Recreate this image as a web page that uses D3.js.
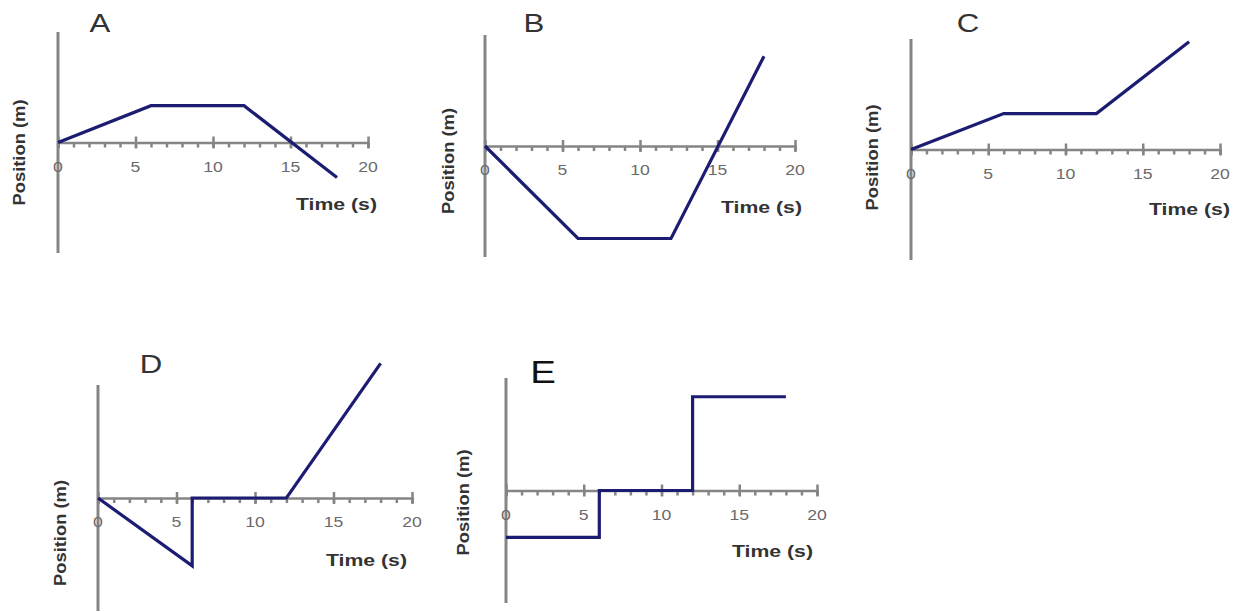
<!DOCTYPE html>
<html>
<head>
<meta charset="utf-8">
<script src="https://cdn.jsdelivr.net/npm/d3@7"></script>
<style>
  html, body { margin: 0; padding: 0; background: #fff; }
  svg { display: block; font-family: "Liberation Sans", Arial, sans-serif; }
</style>
</head>
<body>
<svg id="chart" width="1244" height="612"></svg>
<script>
// ---- data ----
const panelNames = ["A", "B", "C", "D", "E"];
const tickValues = [0, 5, 10, 15, 20];
const tickLabels = ["0", "5", "10", "15", "20"];
const xLabel = "Time (s)";
const yLabel = "Position (m)";

const timesA = [0, 6, 12, 18];
const posA   = [0, 4, 4, -3.8];
const timesB = [0, 6, 12, 18];
const posB   = [0, -10, -10, 9.7];
const timesC = [0, 6, 12, 18];
const posC   = [0, 3.9, 3.9, 11.7];
const timesD = [0, 6, 6, 12, 18];
const posD   = [0, -7.2, 0, 0, 14.3];
const timesE = [0, 6, 6, 12, 12, 18];
const posE   = [-5, -5, 0, 0, 10, 10];

const seriesTimes = [timesA, timesB, timesC, timesD, timesE];
const seriesPos   = [posA, posB, posC, posD, posE];

// ---- layout (pixels) ----
const layout = [
  { x0: 58,  x1: 368,  yTop: 32,  yBot: 253, title: [42, 32, 26],  tl: [377, 210], pl: [-39, 10] },
  { x0: 485, x1: 795,  yTop: 35,  yBot: 257, title: [49, 32, 26],  tl: [802, 213], pl: [-37, 15] },
  { x0: 911, x1: 1220, yTop: 39,  yBot: 260, title: [57, 32, 26],  tl: [1230, 215], pl: [-39, 8] },
  { x0: 98,  x1: 412,  yTop: 385, yBot: 611, title: [53, 373, 26], tl: [407, 566], pl: [-38, 35] },
  { x0: 506, x1: 817,  yTop: 378, yBot: 603, title: [37, 383, 32], tl: [813, 557], pl: [-43, 12] }
];

const svg = d3.select("#chart");
const SX = 1.26;
const lineColor = "#1c1c72";
const axisColor = "#858585";

function txt(g, x, y, s, o) {
  return g.append("text")
    .attr("transform", `translate(${x},${y}) scale(${o.sx || 1},1)`)
    .attr("text-anchor", o.anchor || "middle")
    .attr("font-size", o.size)
    .attr("font-weight", o.weight || "normal")
    .attr("fill", o.fill)
    .text(s);
}

panelNames.forEach((name, i) => {
  const L = layout[i];
  const g = svg.append("g");
  const x = d3.scaleLinear().domain([0, 20]).range([L.x0, L.x1]);
  const y = d3.scaleLinear().domain([-12, 12]).range([L.yBot, L.yTop]);
  const y0 = y(0);

  // y axis line
  g.append("line").attr("x1", L.x0).attr("x2", L.x0).attr("y1", L.yTop).attr("y2", L.yBot)
    .attr("stroke", axisColor).attr("stroke-width", 3);

  // x axis with minor ticks (below) and major ticks (both sides)
  const axG = g.append("g").attr("transform", `translate(0,${y0})`);
  axG.call(d3.axisBottom(x).tickValues(d3.range(0, 21)).tickSize(5).tickFormat(""));
  axG.select(".domain").attr("stroke", axisColor).attr("stroke-width", 2.5);
  axG.selectAll(".tick line").attr("stroke", axisColor).attr("stroke-width", 2.5);
  const majG = g.append("g").attr("transform", `translate(0,${y0 - 6})`);
  majG.call(d3.axisBottom(x).tickValues(tickValues).tickSize(12).tickFormat(""));
  majG.select(".domain").remove();
  majG.selectAll(".tick line").attr("stroke", axisColor).attr("stroke-width", 2.5);

  // tick labels
  tickValues.forEach((v, k) => {
    txt(g, x(v), y0 + 29, tickLabels[k], { size: 14, fill: "#6a6a6a", sx: SX });
  });

  // data line
  const pts = seriesTimes[i].map((t, k) => [t, seriesPos[i][k]]);
  g.append("path")
    .datum(pts)
    .attr("d", d3.line().x(d => x(d[0])).y(d => y(d[1])))
    .attr("fill", "none").attr("stroke", lineColor).attr("stroke-width", 3.2)
    .attr("stroke-linejoin", "miter");

  // title
  txt(g, L.x0 + L.title[0], L.title[1], name,
      { size: L.title[2], fill: i === 4 ? "#111" : "#333", sx: 1.2 });

  // axis labels
  g.append("text")
    .attr("transform", `translate(${L.tl[0]},${L.tl[1]}) scale(1.25,1)`)
    .attr("text-anchor", "end").attr("font-size", 17).attr("font-weight", "bold")
    .attr("fill", "#333").text(xLabel);

  g.append("text")
    .attr("transform", `translate(${L.x0 + L.pl[0] + 6},${y0 + L.pl[1]}) rotate(-90)`)
    .attr("text-anchor", "middle").attr("font-size", 16).attr("font-weight", "bold")
    .attr("fill", "#333")
    .attr("textLength", 106).attr("lengthAdjust", "spacingAndGlyphs")
    .text(yLabel);
});
</script>
</body>
</html>
